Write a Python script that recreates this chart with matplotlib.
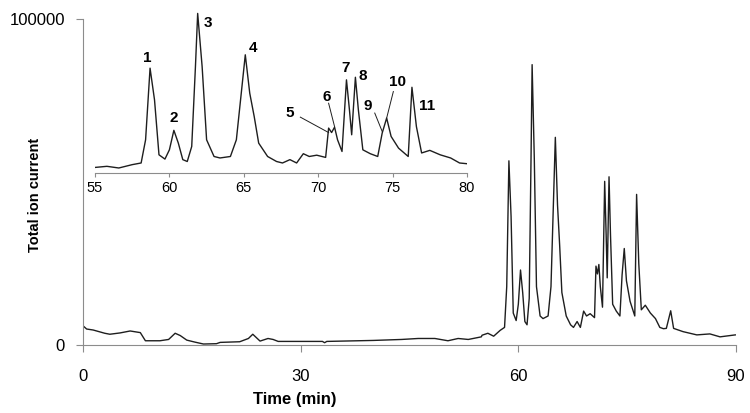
import matplotlib
matplotlib.use("Agg")
import matplotlib.pyplot as plt
import numpy as np

plt.rcParams['font.family'] = ['Liberation Sans', 'DejaVu Sans']

# --- DATA (intensity in thousands) ---
time_min = [
    0.0, 0.5, 1.4, 3.0, 3.7, 5.1, 6.5, 7.9, 8.6, 10.6, 11.8, 12.7, 13.4, 14.3,
    15.4, 16.6, 18.4, 18.9, 21.6, 22.8, 23.4, 24.4, 25.5, 26.2, 26.9, 29.7,
    33.0, 33.3, 33.6, 37.9, 40.0, 43.9, 46.2, 48.5, 50.3, 51.7, 53.1, 54.9,
    55.0, 55.8, 56.6, 57.5, 58.1, 58.4, 58.7, 59.0, 59.3, 59.7, 60.0, 60.3,
    60.6, 60.9, 61.2, 61.5, 61.75, 61.9, 62.2, 62.5, 63.0, 63.4, 64.1, 64.5,
    64.9, 65.1, 65.4, 65.7, 66.0, 66.6, 67.2, 67.6, 68.1, 68.55, 69.0, 69.4,
    69.9, 70.5, 70.7, 70.9, 71.1, 71.3, 71.6, 71.9, 72.1, 72.25, 72.5, 72.7,
    73.0, 73.5, 74.0, 74.3, 74.6, 74.9, 75.4, 76.05, 76.3, 76.6, 76.95, 77.5,
    78.2, 78.9, 79.5, 80.0, 80.4, 81.0, 81.4, 82.7, 84.6, 86.4, 87.8, 89.9,
]
tic_k = [
    5.9, 4.9, 4.6, 3.6, 3.3, 3.7, 4.3, 3.8, 1.3, 1.3, 1.7, 3.6, 2.9, 1.5,
    0.9, 0.3, 0.4, 0.8, 1.0, 2.0, 3.3, 1.2, 2.0, 1.7, 1.1, 1.1,
    1.1, 0.7, 1.1, 1.3, 1.4, 1.7, 2.0, 2.0, 1.3, 2.0, 1.7, 2.5,
    3.0, 3.6, 2.7, 4.5, 5.4, 17.9, 56.5, 39.4, 9.8, 7.5, 12.5, 23.0,
    16.1, 7.2, 6.2, 14.3, 57.3, 86.0, 57.3, 17.9, 8.9, 8.1, 8.9, 17.9,
    48.4, 63.7, 43.0, 30.4, 16.1, 8.9, 6.2, 5.4, 7.2, 5.4, 10.4, 8.9,
    9.6, 8.4, 24.2, 21.8, 24.7, 17.9, 11.6, 50.2, 34.0, 20.6, 51.6, 34.0,
    12.5, 10.4, 8.9, 21.5, 29.6, 19.7, 13.4, 8.9, 46.2, 25.0, 10.8, 12.2,
    9.8, 8.1, 5.4, 5.0, 5.1, 10.5, 5.1, 4.1, 3.1, 3.4, 2.5, 3.1,
]

peak_labels = ['1', '2', '3', '4', '5', '6', '7', '8', '9', '10', '11']
label_t = [58.5, 60.3, 62.6, 65.6, 68.1, 70.6, 71.85, 73.0, 73.35, 75.3, 77.3]
label_k = [61.8, 29.6, 81.0, 67.5, 32.3, 41.2, 56.5, 52.3, 36.2, 49.2, 36.2]
# leader lines: label -> (from t, from k, to t, to k)
leaders = {
    '5': (68.8, 30.1, 70.7, 21.8),
    '6': (70.7, 37.6, 71.1, 25.0),
    '9': (73.8, 32.3, 74.3, 22.4),
    '10': (75.05, 43.9, 74.6, 29.6),
}

t = np.array(time_min)
tic = np.array(tic_k) * 1000

spine_col = '#8c8c8c'
line_col = '#1e1e1e'

fig = plt.figure(figsize=(7.5, 4.13), dpi=100)

# --- main chromatogram ---
ax = fig.add_axes([83 / 750, 1 - 345 / 413, 653 / 750, 326 / 413])
ax.plot(t, tic, color=line_col, lw=1.0)
ax.set_xlim(0, 90)
ax.set_ylim(0, 100000)
ax.set_xticks([0, 30, 60, 90])
ax.set_yticks([0, 100000])
ax.set_yticklabels(['0', '100000'])
for s in ['top', 'right']:
    ax.spines[s].set_visible(False)
for s in ['left', 'bottom']:
    ax.spines[s].set_color(spine_col)
ax.tick_params(axis='x', direction='out', length=5, width=0.8, color=spine_col,
               labelsize=12, pad=12)
ax.tick_params(axis='y', direction='out', length=5, width=0.8, color=spine_col,
               labelsize=12, pad=8)
ax.set_xlabel('Time (min)', fontsize=12, fontweight='bold')
ax.xaxis.set_label_coords((295 - 83) / 653, -0.145)
ax.set_ylabel('Total ion current', fontsize=10.5, fontweight='bold')
ax.yaxis.set_label_coords(-0.063, 0.46)

# --- inset zoom 55-80 min ---
ins = fig.add_axes([95 / 750, 1 - 173 / 413, 372 / 750, 167 / 413])
ins.patch.set_alpha(0)
mask = (t >= 55) & (t <= 80)
ins.plot(t[mask], tic[mask], color=line_col, lw=1.0)
ins.set_xlim(55, 80)
ins.set_ylim(0, 90000)
ins.set_xticks([55, 60, 65, 70, 75, 80])
ins.set_yticks([])
for s in ['top', 'right', 'left']:
    ins.spines[s].set_visible(False)
ins.spines['bottom'].set_color(spine_col)
ins.tick_params(axis='x', direction='out', length=3, width=0.8, color=spine_col,
                labelsize=10.5, pad=3)

for lab, lt, lk in zip(peak_labels, label_t, label_k):
    ins.text(lt, lk * 1000, lab, fontsize=11, fontweight='bold',
             ha='center', va='center')
    if lab in leaders:
        x0, y0, x1, y1 = leaders[lab]
        ins.plot([x0, x1], [y0 * 1000, y1 * 1000], color=line_col, lw=0.7)

fig.savefig('out.png', dpi=100)
